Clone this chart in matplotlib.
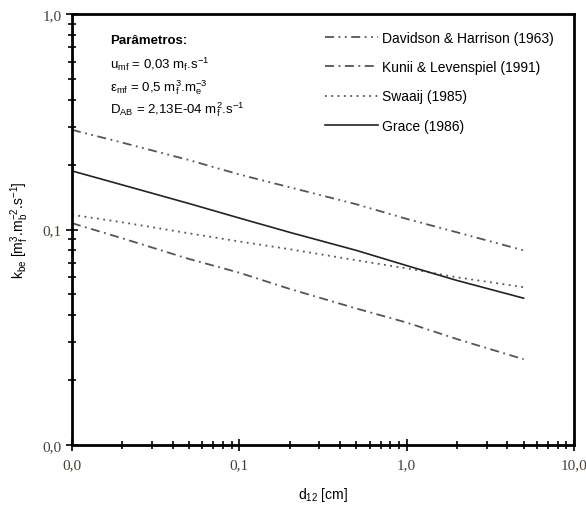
import matplotlib
matplotlib.use("Agg")
import matplotlib.pyplot as plt
from matplotlib.ticker import FixedLocator, FixedFormatter, LogLocator, NullFormatter

plt.rcParams["mathtext.fontset"] = "custom"
plt.rcParams["mathtext.rm"] = "Liberation Sans"
plt.rcParams["mathtext.it"] = "Liberation Sans:italic"
plt.rcParams["mathtext.bf"] = "Liberation Sans:bold"

# Data
x = [0.01, 0.02, 0.05, 0.1, 0.2, 0.5, 1.0, 2.0, 5.0]
davidson = [0.29, 0.253, 0.21, 0.18, 0.157, 0.131, 0.112, 0.097, 0.080]
kunii = [0.107, 0.091, 0.073, 0.063, 0.053, 0.043, 0.037, 0.031, 0.025]
swaaij = [0.117, 0.108, 0.096, 0.088, 0.081, 0.072, 0.066, 0.060, 0.054]
grace = [0.187, 0.161, 0.132, 0.113, 0.097, 0.080, 0.068, 0.058, 0.048]

xticks = [0.01, 0.1, 1, 10]
xticklabels = ["0,0", "0,1", "1,0", "10,0"]
yticks = [0.01, 0.1, 1]
yticklabels = ["0,0", "0,1", "1,0"]

fig = plt.figure(figsize=(5.86, 5.06), dpi=100)
ax = fig.add_axes([72/586, 1-446/506, (574-72)/586, (446-15)/506])
ax.set_xscale("log")
ax.set_yscale("log")

lc = "#555555"
ax.plot(x, davidson, color=lc, lw=1.3, dashes=(5, 2.5, 1, 2.5, 1, 2.5), label="Davidson & Harrison (1963)")
ax.plot(x, kunii, color=lc, lw=1.3, dashes=(5, 2.5, 1, 2.5), label="Kunii & Levenspiel (1991)")
ax.plot(x, swaaij, color=lc, lw=1.3, dashes=(1, 2.5), label="Swaaij (1985)")
ax.plot(x, grace, color="#222222", lw=1.2, label="Grace (1986)")

ax.set_xlim(0.01, 10)
ax.set_ylim(0.01, 1)

tick_color = "#4a3f35"
ax.xaxis.set_major_locator(FixedLocator(xticks))
ax.xaxis.set_major_formatter(FixedFormatter(xticklabels))
ax.yaxis.set_major_locator(FixedLocator(yticks))
ax.yaxis.set_major_formatter(FixedFormatter(yticklabels))
ax.xaxis.set_minor_locator(LogLocator(base=10, subs=range(2, 10)))
ax.yaxis.set_minor_locator(LogLocator(base=10, subs=range(2, 10)))
ax.xaxis.set_minor_formatter(NullFormatter())
ax.yaxis.set_minor_formatter(NullFormatter())
ax.tick_params(which="both", direction="inout", color="black", width=1.2)
ax.tick_params(which="major", length=9)
ax.tick_params(which="minor", length=6)
for lab in ax.get_xticklabels() + ax.get_yticklabels():
    lab.set_family("Liberation Serif")
    lab.set_fontsize(11)
    lab.set_color(tick_color)
ax.tick_params(axis="x", pad=5)
ax.tick_params(axis="y", pad=3)

for s in ax.spines.values():
    s.set_linewidth(2)
    s.set_color("black")

ax.set_xlabel(r"d$_{12}$ [cm]", fontsize=10, family="Liberation Sans", labelpad=10)
ax.set_ylabel(r"k$_{\rm be}$ [m$_{\rm f}^{3}$.m$_{\rm b}^{-2}$.s$^{-1}$]", fontsize=10,
              family="Liberation Sans", labelpad=8)

ax.text(0.075, 0.94, "Parâmetros:", transform=ax.transAxes, fontsize=9.5,
        fontweight="bold", family="Liberation Sans", va="center")
ax.text(0.075, 0.885, r"u$_{\rm mf}$ = 0,03 m$_{\rm f}$.s$^{-1}$", transform=ax.transAxes,
        fontsize=9.5, family="Liberation Sans", va="center")
ax.text(0.075, 0.832, r"ε$_{\rm mf}$ = 0,5 m$_{\rm f}^{3}$.m$_{\rm e}^{-3}$", transform=ax.transAxes,
        fontsize=9.5, family="Liberation Sans", va="center")
ax.text(0.075, 0.78, r"D$_{\rm AB}$ = 2,13E-04 m$_{\rm f}^{2}$.s$^{-1}$", transform=ax.transAxes,
        fontsize=9.5, family="Liberation Sans", va="center")

leg = ax.legend(loc="upper right", bbox_to_anchor=(0.985, 0.99), frameon=False,
                handlelength=3.8, handletextpad=0.3, labelspacing=1.1,
                prop={"family": "Liberation Sans", "size": 10})

fig.savefig("out.png", dpi=100)
